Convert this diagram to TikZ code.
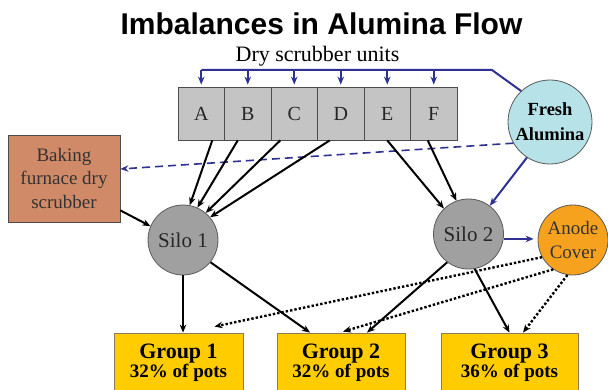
\documentclass[tikz,border=0pt]{standalone}
\usepackage{fontspec}
\setmainfont{Liberation Serif}
\setsansfont{Liberation Sans}
\usetikzlibrary{arrows.meta}
\definecolor{flowblue}{HTML}{2E3192}
\definecolor{unitgray}{HTML}{C4C4C4}
\definecolor{silogray}{HTML}{A0A0A0}
\definecolor{bakebrown}{HTML}{D08A68}
\definecolor{freshcyan}{HTML}{B6E2E8}
\definecolor{anodeorange}{HTML}{F7A21E}
\definecolor{potyellow}{HTML}{FFCC00}
\definecolor{potedge}{HTML}{8B7B5B}

\begin{document}
\begin{tikzpicture}[x=1pt,y=-1pt,line width=2pt,>={Stealth[length=8pt,width=6.5pt]},
  unitbox/.style={draw=gray!60!black,line width=0.8pt,fill=unitgray,minimum width=46.5pt,
    minimum height=53pt,inner sep=0pt,text=black!85,font=\fontsize{20}{24}\selectfont},
  silo/.style={circle,draw=gray!70!black,line width=0.8pt,fill=silogray,minimum size=70pt,
    inner sep=0pt,text=black!85,font=\fontsize{21}{24}\selectfont},
  bubble/.style={circle,draw=gray!70!black,line width=0.8pt,minimum size=#1,inner sep=0pt,align=center},
  potgroup/.style={draw=potedge,line width=0.8pt,fill=potyellow,minimum height=59pt,
    inner sep=0pt,align=center,font=\bfseries},
  blueline/.style={draw=flowblue,line width=2pt},
  feed/.style={->,black,line width=2pt},
  cover/.style={->,black,dotted,line width=2.4pt}]
\useasboundingbox (0,0) rectangle (608,390);
% title
\node[font=\sffamily\bfseries\fontsize{30}{36}\selectfont,anchor=base] (title) at (321.5,35) {Imbalances in Alumina Flow};
\node[font=\fontsize{22}{26}\selectfont,anchor=base] (units) at (317.5,62) {Dry scrubber units};
% dry scrubber units A..F
\foreach \u [count=\i] in {A,...,F}
  \node[unitbox] (unit\u) at ({178+46.5*(\i-0.5)},113.5) {\u};
% sources and silos
\node[bubble=84pt,fill=freshcyan,font=\bfseries\fontsize{18.5}{25}\selectfont] (fresh) at (550,122) {Fresh\\Alumina};
\node[draw=black!70,line width=0.8pt,fill=bakebrown,minimum width=112pt,minimum height=87pt,
  inner sep=0pt,align=center,text=black!80,font=\fontsize{19}{23.5}\selectfont] (baking) at (64,178.5) {Baking\\furnace dry\\scrubber};
\node[silo] (silo1) at (183,240) {Silo 1};
\node[silo] (silo2) at (468.5,234) {Silo 2};
\node[bubble=70pt,fill=anodeorange,text=black!80,font=\fontsize{19}{24}\selectfont] (anode) at (573,240) {Anode\\Cover};
% pot groups
\node[potgroup,minimum width=129pt] (group1) at (178.5,362.5) {{\fontsize{22}{25}\selectfont Group 1}\\{\fontsize{19}{25}\selectfont 32\% of pots}};
\node[potgroup,minimum width=128pt] (group2) at (341,362.5) {{\fontsize{22}{25}\selectfont Group 2}\\{\fontsize{19}{25}\selectfont 32\% of pots}};
\node[potgroup,minimum width=137pt] (group3) at (509.5,362.5) {{\fontsize{22}{25}\selectfont Group 3}\\{\fontsize{19}{25}\selectfont 36\% of pots}};
% fresh alumina feed line
\coordinate (busY) at (0,70);
\coordinate (bend) at (492,70);
\draw[blueline] (unitA.north |- busY) -- (bend) -- (fresh.133);
\foreach \u in {A,...,F}
  \draw[blueline,->,shorten >=2pt] (unit\u.north |- busY) -- (unit\u.north);
\draw[blueline,->] (fresh.237) -- (silo2.53);
\draw[blueline,->,dash pattern=on 8pt off 5pt,line width=1.6pt] (fresh.210) -- ([yshift=9.5pt]baking.east);
\draw[blueline,->,shorten >=4pt] (silo2.-8) -- (silo2.-8 -| anode.west);
% units to silos
\draw[feed] ([xshift=11pt]unitA.south) -- (silo1.79);
\draw[feed] ([xshift=-10pt]unitB.south) -- (silo1.66);
\draw[feed] ([xshift=-14pt]unitC.south) -- (silo1.50);
\draw[feed] ([xshift=-11pt]unitD.south) -- (silo1.40);
\draw[feed] (unitE.south) -- (silo2.134);
\draw[feed] ([xshift=-6pt]unitF.south) -- (silo2.110);
\draw[feed] ([yshift=12pt]baking.south east) -- (silo1.157);
% silos to pot groups
\draw[feed] (silo1.south) -- (silo1.south |- group1.north);
\draw[feed] (silo1.-39) -- ([xshift=-31pt]group2.north);
\draw[feed] (silo2.233) -- ([xshift=26pt]group2.north);
\draw[feed] (silo2.280) -- (group3.north);
% anode cover
\draw[cover] (anode.209) -- ([xshift=36pt,yshift=6pt]group1.north);
\draw[cover] (anode.236) -- ([xshift=2pt,yshift=1pt]group2.north);
\draw[cover] (anode.261) -- ([xshift=13.5pt]group3.north);
\end{tikzpicture}
\end{document}
